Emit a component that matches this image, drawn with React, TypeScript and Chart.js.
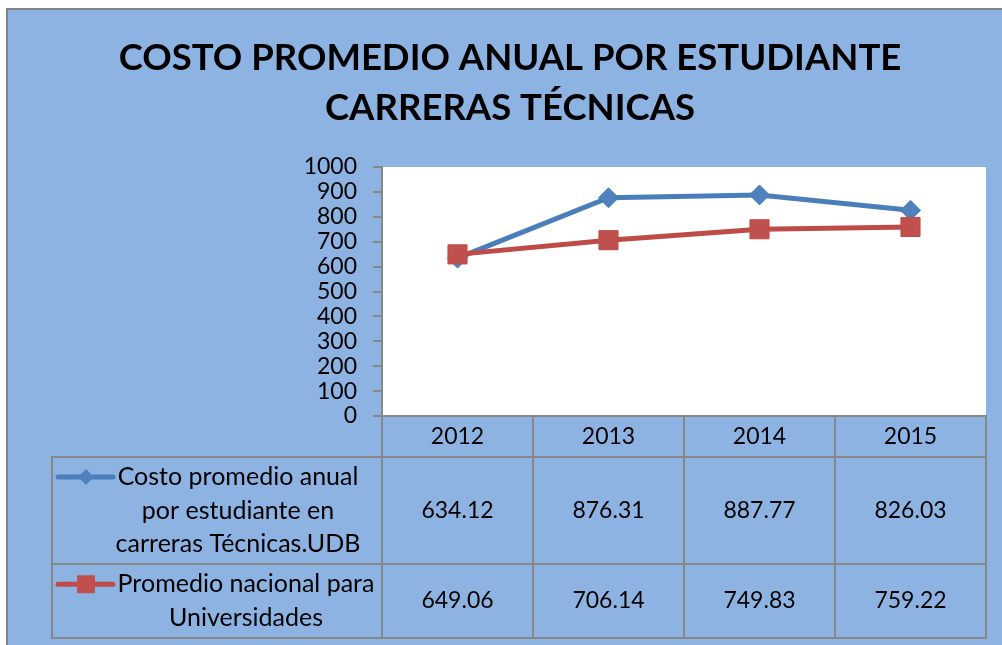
import React, { useEffect, useRef } from 'react';
import { Chart, registerables } from 'chart.js';

Chart.register(...registerables);

// ---- data ----
const titleLines = ['COSTO PROMEDIO ANUAL POR ESTUDIANTE', 'CARRERAS TÉCNICAS'];
const years = ['2012', '2013', '2014', '2015'];
const costoUDB = [634.12, 876.31, 887.77, 826.03];
const promedioNacional = [649.06, 706.14, 749.83, 759.22];
const seriesNames = [
  'Costo promedio anual por estudiante en carreras Técnicas.UDB',
  'Promedio nacional para Universidades',
];
const seriesNameLines = [
  ['Costo promedio anual', 'por estudiante en', 'carreras Técnicas.UDB'],
  ['Promedio nacional para', 'Universidades'],
];
const yMin = 0;
const yMax = 1000;
const yStep = 100;

// ---- styles ----
const BG_BLUE = '#8DB3E2';
const GRID_GRAY = '#878787';
const BLUE_LINE = '#4A7EBB';
const BLUE_FILL = '#4F81BD';
const RED_LINE = '#BE4B48';
const RED_FILL = '#C0504D';
const FONT = 'Lato';
const NUM_SIZE = 23;
const LABEL_SIZE = 25;

const seriesColors = [
  { line: BLUE_LINE, fill: BLUE_FILL, style: 'diamond' },
  { line: RED_LINE, fill: RED_FILL, style: 'square' },
];

const backgroundPlugin = {
  id: 'bgPlugin',
  beforeDraw(chart: any) {
    const { ctx, width, height, chartArea } = chart;
    ctx.save();
    ctx.fillStyle = '#FFFFFF';
    ctx.fillRect(0, 0, width, height);
    ctx.fillStyle = BG_BLUE;
    ctx.fillRect(7, 9, width - 7, height - 9);
    ctx.strokeStyle = '#848484';
    ctx.lineWidth = 2;
    ctx.beginPath();
    ctx.moveTo(7, height);
    ctx.lineTo(7, 9);
    ctx.lineTo(width, 9);
    ctx.stroke();
    ctx.fillStyle = '#FFFFFF';
    ctx.fillRect(chartArea.left, chartArea.top, chartArea.right - chartArea.left, chartArea.bottom - chartArea.top);
    ctx.restore();
  },
};

const tablePlugin = {
  id: 'dataTable',
  afterDraw(chart: any) {
    const { ctx, chartArea } = chart;
    const xs = chart.scales.x;
    const n = years.length;
    const colW = (chartArea.right - chartArea.left) / n;
    const top = chartArea.bottom;
    const headerBottom = top + 41;
    const row1Bottom = top + 148;
    const row2Bottom = top + 222;
    const rowBounds = [
      [headerBottom, row1Bottom],
      [row1Bottom, row2Bottom],
    ];
    const labelLeft = 52;
    ctx.save();
    ctx.strokeStyle = GRID_GRAY;
    ctx.lineWidth = 2;
    ctx.beginPath();
    for (let i = 0; i <= n; i++) {
      const bx = Math.round(chartArea.left + i * colW);
      ctx.moveTo(bx, top);
      ctx.lineTo(bx, row2Bottom);
    }
    ctx.moveTo(labelLeft, headerBottom);
    ctx.lineTo(labelLeft, row2Bottom);
    [headerBottom, row1Bottom, row2Bottom].forEach((yy) => {
      ctx.moveTo(labelLeft - 1, yy);
      ctx.lineTo(chartArea.right + 1, yy);
    });
    ctx.stroke();

    const seriesValues = [costoUDB, promedioNacional];
    ctx.fillStyle = '#000';
    ctx.font = `${NUM_SIZE}px ${FONT}`;
    ctx.textAlign = 'center';
    ctx.textBaseline = 'middle';
    seriesValues.forEach((vals, r) => {
      const [rt, rb] = rowBounds[r];
      const cy = (rt + rb) / 2;
      vals.forEach((v, i) => {
        ctx.fillText(v.toFixed(2), xs.getPixelForValue(i), cy);
      });
    });

    const lineH = 33.5;
    const labelCenters = [238, 246];
    ctx.font = `${LABEL_SIZE}px ${FONT}`;
    seriesNameLines.forEach((lines, r) => {
      const [rt, rb] = rowBounds[r];
      const cy = (rt + rb) / 2;
      const firstY = cy - ((lines.length - 1) / 2) * lineH;
      ctx.fillStyle = '#000';
      lines.forEach((t, k) => {
        ctx.fillText(t, labelCenters[r], firstY + k * lineH);
      });
      // legend key
      const c = seriesColors[r];
      ctx.strokeStyle = c.line;
      ctx.lineWidth = 5;
      ctx.lineCap = 'round';
      ctx.beginPath();
      ctx.moveTo(58, firstY);
      ctx.lineTo(113, firstY);
      ctx.stroke();
      ctx.fillStyle = c.fill;
      ctx.beginPath();
      if (c.style === 'diamond') {
        const rr = 8;
        ctx.moveTo(86, firstY - rr);
        ctx.lineTo(86 + rr, firstY);
        ctx.lineTo(86, firstY + rr);
        ctx.lineTo(86 - rr, firstY);
        ctx.closePath();
      } else {
        ctx.rect(77, firstY - 9, 18, 18);
      }
      ctx.fill();
    });
    ctx.restore();
  },
};

export default function App() {
  const ref = useRef<HTMLCanvasElement | null>(null);
  useEffect(() => {
    document.body.style.margin = '0';
    const canvas = ref.current;
    if (!canvas) return;
    const chart = new Chart(canvas, {
      type: 'line',
      data: {
        labels: years,
        datasets: [
          {
            label: seriesNames[0],
            data: costoUDB,
            borderColor: BLUE_LINE,
            backgroundColor: BLUE_FILL,
            borderWidth: 5,
            pointStyle: 'rectRot',
            pointRadius: 10,
            pointBorderWidth: 1,
            pointBorderColor: BLUE_LINE,
            pointBackgroundColor: BLUE_FILL,
            tension: 0,
            order: 1,
          },
          {
            label: seriesNames[1],
            data: promedioNacional,
            borderColor: RED_LINE,
            backgroundColor: RED_FILL,
            borderWidth: 5,
            pointStyle: 'rect',
            pointRadius: 13.5,
            pointBorderWidth: 1,
            pointBorderColor: RED_LINE,
            pointBackgroundColor: RED_FILL,
            tension: 0,
            order: 0,
          },
        ],
      },
      options: {
        responsive: false,
        animation: false,
        devicePixelRatio: 1,
        layout: { padding: { left: 18, right: 0, top: 0, bottom: 0 } },
        plugins: {
          legend: { display: false },
          tooltip: { enabled: false },
          title: {
            display: true,
            text: titleLines,
            color: '#000',
            font: { family: FONT, size: 36.5, weight: 'bold', lineHeight: 50 / 36.5 },
            padding: { top: 33, bottom: 34 },
          },
        },
        scales: {
          x: {
            type: 'category',
            offset: true,
            grid: { display: false, drawTicks: false, offset: true },
            border: { display: true, color: GRID_GRAY, width: 2 },
            ticks: { color: '#000', font: { family: FONT, size: NUM_SIZE }, padding: 7, maxRotation: 0 },
            afterFit(s: any) {
              s.height = 229;
            },
          },
          y: {
            min: yMin,
            max: yMax,
            grid: { display: true, drawOnChartArea: false, drawTicks: true, tickLength: 9, color: GRID_GRAY, lineWidth: 2 },
            border: { display: true, color: GRID_GRAY, width: 2 },
            ticks: {
              stepSize: yStep,
              autoSkip: false,
              color: '#000',
              font: { family: FONT, size: NUM_SIZE },
              padding: 16,
              callback: (v: any) => String(v),
            },
            afterFit(s: any) {
              s.width = 364;
            },
          },
          yRightSpacer: {
            type: 'linear',
            position: 'right',
            display: true,
            grid: { display: false, drawTicks: false },
            border: { display: false },
            ticks: { display: false },
            afterFit(s: any) {
              s.width = 16;
            },
          },
        },
      },
      plugins: [backgroundPlugin, tablePlugin],
    } as any);
    return () => chart.destroy();
  }, []);
  return (
    <div style={{ width: 1002, height: 645 }}>
      <canvas ref={ref} width={1002} height={645} style={{ display: 'block' }} />
    </div>
  );
}
